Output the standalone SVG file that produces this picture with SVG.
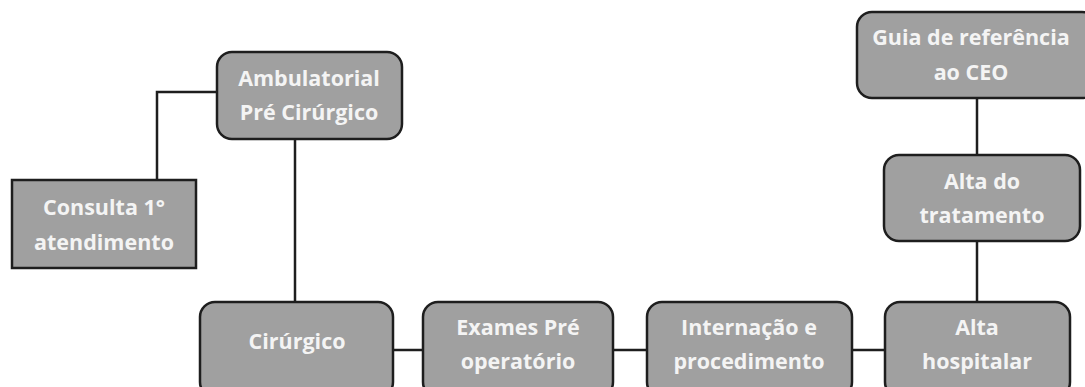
<svg xmlns="http://www.w3.org/2000/svg" width="1085" height="387" viewBox="0 0 1085 387">
<style>
.box{fill:#a0a0a0;stroke:#1e1e1e;stroke-width:2.5}
.t{font-family:"Open Sans",sans-serif;font-weight:bold;font-size:21.5px;fill:#f4f4f4;text-anchor:middle}
.c{fill:none;stroke:#1e1e1e;stroke-width:2.5}
</style>
<rect width="1085" height="387" fill="#ffffff"/>
<g id="connectors">
<polyline class="c" points="217,92 157,92 157,181"/>
<line class="c" x1="295" y1="139" x2="295" y2="303"/>
<line class="c" x1="393" y1="350" x2="423" y2="350"/>
<line class="c" x1="613" y1="350" x2="647" y2="350"/>
<line class="c" x1="852" y1="350" x2="885" y2="350"/>
<line class="c" x1="977" y1="98" x2="977" y2="155"/>
<line class="c" x1="977" y1="241" x2="977" y2="303"/>
</g>
<g id="ambulatorial">
<rect class="box" x="217" y="52" width="185" height="87" rx="15"/>
<text class="t" x="309" y="86">Ambulatorial</text>
<text class="t" x="309" y="120">Pré Cirúrgico</text>
</g>
<g id="consulta">
<rect class="box" x="12" y="180" width="184" height="88"/>
<text class="t" x="104" y="215">Consulta 1°</text>
<text class="t" x="104" y="250">atendimento</text>
</g>
<g id="cirurgico">
<rect class="box" x="200" y="302" width="193" height="95" rx="15"/>
<text class="t" x="297" y="349">Cirúrgico</text>
</g>
<g id="exames">
<rect class="box" x="423" y="302" width="190" height="95" rx="15"/>
<text class="t" x="518" y="335">Exames Pré</text>
<text class="t" x="518" y="369">operatório</text>
</g>
<g id="internacao">
<rect class="box" x="647" y="302" width="205" height="95" rx="15"/>
<text class="t" x="749" y="335">Internação e</text>
<text class="t" x="749" y="369">procedimento</text>
</g>
<g id="alta-hospitalar">
<rect class="box" x="885" y="302" width="185" height="95" rx="15"/>
<text class="t" x="977" y="335">Alta</text>
<text class="t" x="977" y="369">hospitalar</text>
</g>
<g id="alta-tratamento">
<rect class="box" x="884" y="155" width="196" height="86" rx="15"/>
<text class="t" x="982" y="189">Alta do</text>
<text class="t" x="982" y="223">tratamento</text>
</g>
<g id="guia">
<rect class="box" x="857" y="12" width="240" height="86" rx="15"/>
<text class="t" x="971" y="45">Guia de referência</text>
<text class="t" x="971" y="80">ao CEO</text>
</g>
</svg>
